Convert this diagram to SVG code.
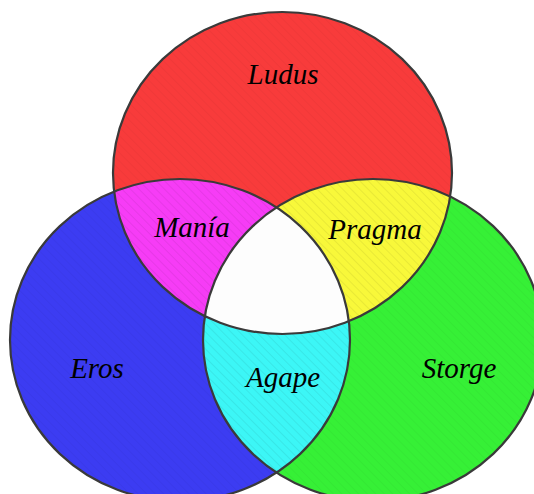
<svg xmlns="http://www.w3.org/2000/svg" width="534" height="494" viewBox="0 0 534 494">
  <style>
    .lbl { font-family: "Liberation Serif", "Times New Roman", serif; font-style: italic; font-size: 29px; fill: #000; text-anchor: middle; }
    .edge { fill: none; stroke: #3a3a3a; stroke-width: 2.2; }
    .hatch { fill: url(#hatch); }
  </style>
  <defs>
    <ellipse id="eR" cx="282.5" cy="173" rx="169.5" ry="161"/>
    <ellipse id="eB" cx="180" cy="340" rx="170" ry="161"/>
    <ellipse id="eG" cx="373" cy="340" rx="170" ry="161"/>
    <clipPath id="cR"><use href="#eR"/></clipPath>
    <clipPath id="cB"><use href="#eB"/></clipPath>
    <clipPath id="cG"><use href="#eG"/></clipPath>
    <pattern id="hatch" width="6" height="6" patternUnits="userSpaceOnUse" patternTransform="rotate(-45)">
      <line x1="0" y1="0" x2="0" y2="6" stroke="#000" stroke-opacity="0.06" stroke-width="1"/>
    </pattern>
  </defs>
  <rect width="534" height="494" fill="#ffffff"/>

  <g id="ludus">
    <use href="#eR" fill="#f83b3b"/>
  </g>
  <g id="eros">
    <use href="#eB" fill="#3c3cf2"/>
  </g>
  <g id="storge">
    <use href="#eG" fill="#36f036"/>
  </g>
  <g id="mania">
    <g clip-path="url(#cR)"><use href="#eB" fill="#f63cf6"/></g>
  </g>
  <g id="pragma">
    <g clip-path="url(#cR)"><use href="#eG" fill="#f8f83a"/></g>
  </g>
  <g id="agape">
    <g clip-path="url(#cB)"><use href="#eG" fill="#3cf6f6"/></g>
  </g>

  <g id="texture">
    <use href="#eR" class="hatch"/>
    <use href="#eB" class="hatch"/>
    <use href="#eG" class="hatch"/>
  </g>

  <g id="center">
    <g clip-path="url(#cR)"><g clip-path="url(#cB)"><use href="#eG" fill="#fdfdfd"/></g></g>
  </g>

  <g id="outlines">
    <use href="#eR" class="edge"/>
    <use href="#eB" class="edge"/>
    <use href="#eG" class="edge"/>
  </g>

  <g id="labels">
    <text class="lbl" x="283" y="84">Ludus</text>
    <text class="lbl" x="192" y="237">Manía</text>
    <text class="lbl" x="375" y="239">Pragma</text>
    <text class="lbl" x="97" y="378">Eros</text>
    <text class="lbl" x="283" y="387">Agape</text>
    <text class="lbl" x="459" y="378">Storge</text>
  </g>
</svg>
